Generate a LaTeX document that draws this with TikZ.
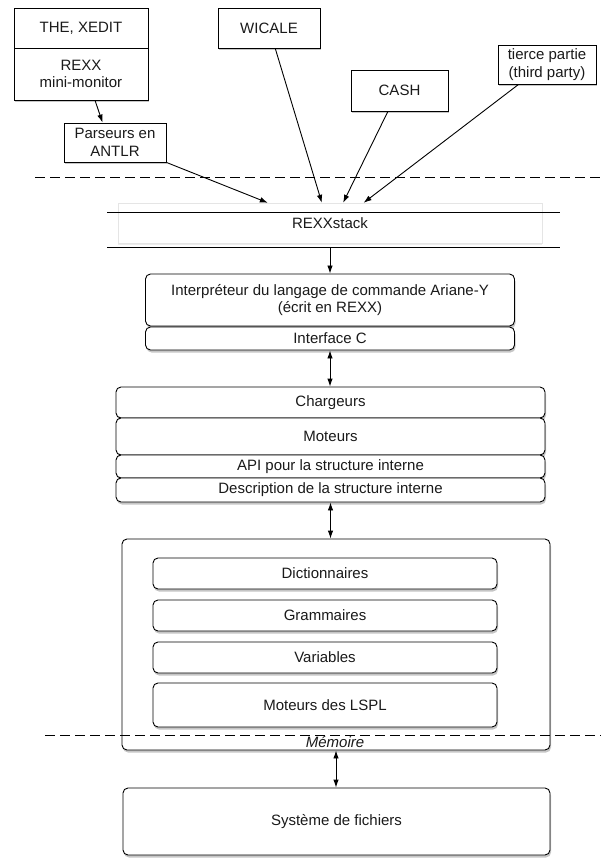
\documentclass[tikz,border=0pt]{standalone}
\usepackage{fontspec}
\setmainfont{Liberation Sans}
\usetikzlibrary{arrows.meta,positioning,shadows}
\definecolor{textInk}{HTML}{1A1A1A}

\begin{document}
\begin{tikzpicture}[
    x=1pt,y=-1pt,
    >={Latex[length=8pt,width=5.5pt]},
    font=\fontsize{15}{17.5}\selectfont,
    every node/.style={text=textInk},
    link/.style={->,line width=0.9pt},
    both/.style={<->,line width=0.9pt},
    cut/.style={line width=0.9pt,dash pattern=on 10pt off 5pt},
    box/.style={draw,line width=0.9pt,fill=white,align=center,inner sep=0pt,
      drop shadow={shadow xshift=1pt,shadow yshift=-2.5pt,opacity=0.45}},
    layer/.style={box,rounded corners=5pt}
  ]
    \useasboundingbox (0,0) rectangle (601,858);

    % outils externes
    \node[box,minimum width=134pt,minimum height=40pt] (the) at (81,28) {THE, XEDIT};
    \node[box,minimum width=134pt,minimum height=52pt] (rexx) at (81,74) {REXX\\mini-monitor};
    \node[box,minimum width=102pt,minimum height=39pt] (antlr) at (115,142.5) {Parseurs en\\ANTLR};
    \node[box,minimum width=102pt,minimum height=40pt] (wicale) at (269,28) {WICALE};
    \node[box,minimum width=97pt,minimum height=41pt] (cash) at (399.5,90.5) {CASH};
    \node[box,minimum width=98pt,minimum height=39pt] (tierce) at (547,64.5) {tierce partie\\(third party)};
    \draw[link] (rexx.-62)--(antlr.122);

    \draw[cut] (35,177)--(601,177);

    % pile REXX
    \node[draw=black!10,fill=white,minimum width=424pt,minimum height=40pt,
      drop shadow={shadow xshift=0pt,shadow yshift=-2pt,opacity=0.15}] (stack) at (330,223) {REXXstack};
    \draw[line width=0.9pt] (107,212)--(560,212);
    \draw[line width=0.9pt] (107,247)--(560,247);
    \coordinate (stackbot) at (330,247);
    \draw[link] (antlr.south east)--(stack.162);
    \draw[link] (wicale.-73)--(stack.112);
    \draw[link] (cash.-119)--(stack.57);
    \draw[link] (tierce.-145)--(stack.31);

    % interpreteur
    \node[layer,minimum width=369pt,minimum height=52pt] (interp) at (330,300)
      {Interpréteur du langage de commande Ariane-Y\\(écrit en REXX)};
    \node[layer,minimum width=369pt,minimum height=23pt] (ifc) at (330,338.5) {Interface C};
    \draw[link] (stackbot)--(interp.north);

    % noyau
    \node[layer,minimum width=429pt,minimum height=31pt] (charg) at (330.5,402.5) {Chargeurs};
    \node[layer,minimum width=429pt,minimum height=37pt] (mot) at (330.5,436.5) {Moteurs};
    \node[layer,minimum width=429pt,minimum height=23pt] (api) at (330.5,466.5) {API pour la structure interne};
    \node[layer,minimum width=429pt,minimum height=24pt] (desc) at (330.5,490) {Description de la structure interne};
    \draw[both] (ifc.south)--(ifc.south |- charg.north);

    % memoire
    \node[layer,minimum width=428pt,minimum height=211pt] (mem) at (336,644.5) {};
    \node[layer,minimum width=344pt,minimum height=31pt] (dico) at (325,573.5) {Dictionnaires};
    \node[layer,minimum width=344pt,minimum height=31pt] (gram) at (325,615.5) {Grammaires};
    \node[layer,minimum width=344pt,minimum height=31pt] (vars) at (325,657.5) {Variables};
    \node[layer,minimum width=344pt,minimum height=44pt] (lspl) at (325,705) {Moteurs des LSPL};
    \draw[cut] (45,735)--(601,735);
    \node[font=\fontsize{15}{17.5}\selectfont\itshape] (memlabel) at (335,742) {Mémoire};
    \draw[both] (desc.south)--(desc.south |- mem.north);

    % fichiers
    \node[layer,minimum width=427pt,minimum height=67pt] (fs) at (336.5,821.5) {Système de fichiers};
    \draw[both] (mem.south)--(mem.south |- fs.north);
  \end{tikzpicture}
\end{document}
